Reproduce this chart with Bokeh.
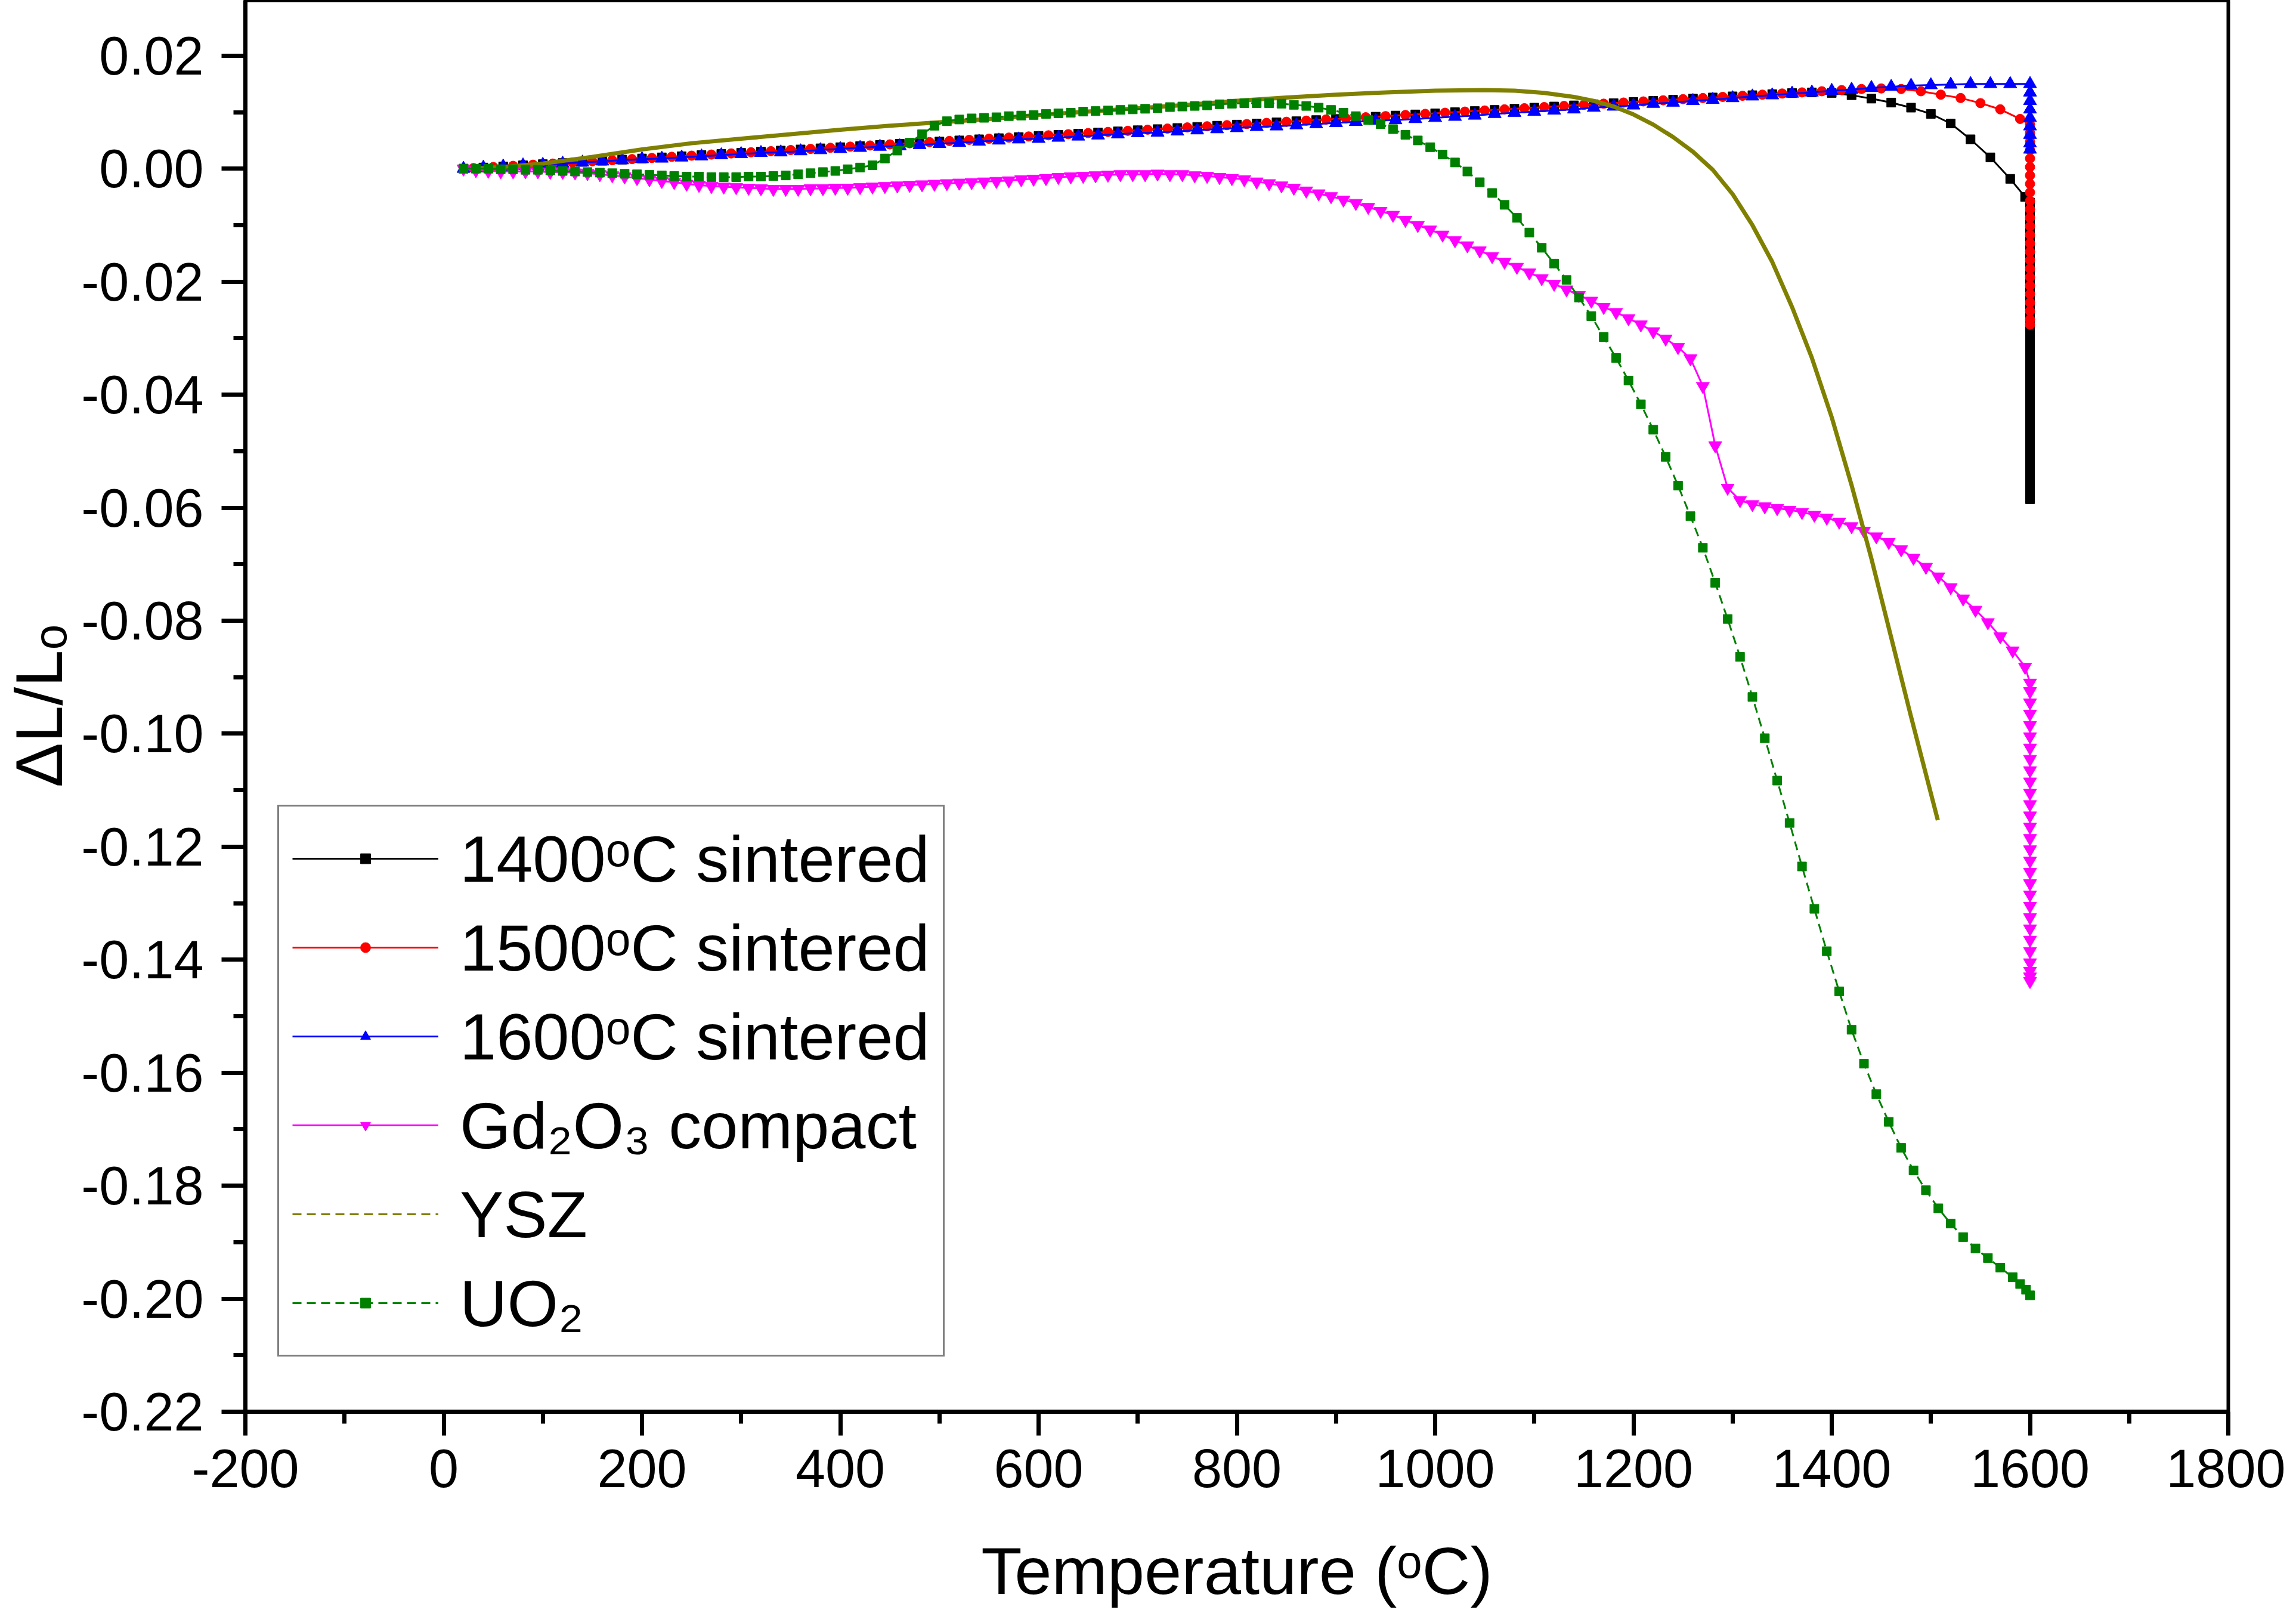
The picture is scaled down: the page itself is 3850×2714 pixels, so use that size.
from bokeh.plotting import figure
from bokeh.models import Legend, LegendItem, FixedTicker, PrintfTickFormatter
from bokeh.embed import file_html
from bokeh.resources import INLINE

# ---------------- data ----------------
HOLD_T = 1600  # isothermal hold temperature (vertical segments)

# 1400 C sintered (black, squares)
BLACK_RAMP = [(20,0.0000),(40,0.0002),(60,0.0004),(80,0.0006),(100,0.0008),(120,0.0010),(140,0.0012),
    (160,0.0014),(180,0.0016),(200,0.0018),(220,0.0020),(240,0.0022),(260,0.0024),(280,0.0026),
    (300,0.0028),(320,0.0030),(340,0.0032),(360,0.0034),(380,0.0036),(400,0.0038),(420,0.0040),
    (440,0.0042),(460,0.0044),(480,0.0046),(500,0.0048),(520,0.0050),(540,0.0052),(560,0.0054),
    (580,0.0056),(600,0.0058),(620,0.0060),(640,0.0062),(660,0.0064),(680,0.0066),(700,0.0068),
    (720,0.0070),(740,0.0072),(760,0.0074),(780,0.0076),(800,0.0078),(820,0.0080),(840,0.0082),
    (860,0.0084),(880,0.0086),(900,0.0088),(920,0.0090),(940,0.0092),(960,0.0094),(980,0.0096),
    (1000,0.0098),(1020,0.0100),(1040,0.0102),(1060,0.0104),(1080,0.0106),(1100,0.0108),
    (1120,0.0110),(1140,0.0112),(1160,0.0114),(1180,0.0116),(1200,0.0118),(1220,0.0120),
    (1240,0.0122),(1260,0.0124),(1280,0.0126),(1300,0.0128),(1320,0.0130),(1340,0.0132),
    (1360,0.0134),(1380,0.0135),(1400,0.0134),(1420,0.0130),(1440,0.0124),(1460,0.0117),
    (1480,0.0108),(1500,0.0097),(1520,0.0080),(1540,0.0052),(1560,0.0020),(1580,-0.0018),
    (1595,-0.0050),(1600,-0.0060)]
BLACK_HOLD = [-0.0075,-0.0090,-0.0105,-0.0120,-0.0135,-0.0150,-0.0165,-0.0180,-0.0195,-0.0210,
    -0.0225,-0.0240,-0.0255,-0.0270,-0.0285,-0.0300,-0.0315,-0.0330,-0.0345,-0.0360,-0.0375,
    -0.0390,-0.0405,-0.0420,-0.0435,-0.0450,-0.0465,-0.0480,-0.0495,-0.0510,-0.0525,-0.0540,
    -0.0555,-0.0570,-0.0585]

# 1500 C sintered (red, circles)
RED_RAMP = [(30,0.0001),(50,0.0003),(70,0.0005),(90,0.0007),(110,0.0009),(130,0.0011),(150,0.0013),
    (170,0.0015),(190,0.0017),(210,0.0019),(230,0.0021),(250,0.0023),(270,0.0025),(290,0.0027),
    (310,0.0029),(330,0.0031),(350,0.0033),(370,0.0035),(390,0.0037),(410,0.0039),(430,0.0041),
    (450,0.0043),(470,0.0045),(490,0.0047),(510,0.0049),(530,0.0051),(550,0.0053),(570,0.0055),
    (590,0.0057),(610,0.0059),(630,0.0061),(650,0.0063),(670,0.0065),(690,0.0067),(710,0.0069),
    (730,0.0071),(750,0.0073),(770,0.0075),(790,0.0077),(810,0.0079),(830,0.0081),(850,0.0083),
    (870,0.0085),(890,0.0087),(910,0.0089),(930,0.0091),(950,0.0093),(970,0.0095),(990,0.0097),
    (1010,0.0099),(1030,0.0101),(1050,0.0103),(1070,0.0105),(1090,0.0107),(1110,0.0109),
    (1130,0.0111),(1150,0.0113),(1170,0.0115),(1190,0.0117),(1210,0.0119),(1230,0.0121),
    (1250,0.0123),(1270,0.0125),(1290,0.0127),(1310,0.0129),(1330,0.0131),(1350,0.0133),
    (1370,0.0135),(1390,0.0137),(1410,0.0139),(1430,0.0141),(1450,0.0142),(1470,0.0141),
    (1490,0.0137),(1510,0.0131),(1530,0.0125),(1550,0.0116),(1570,0.0105),(1590,0.0088),
    (1600,0.0078)]
RED_HOLD = [0.0063,0.0048,0.0033,0.0018,0.0003,-0.0012,-0.0027,-0.0042,-0.0057,-0.0072,-0.0087,
    -0.0102,-0.0117,-0.0132,-0.0147,-0.0162,-0.0177,-0.0192,-0.0207,-0.0222,-0.0237,-0.0252,
    -0.0267,-0.0276]

# 1600 C sintered (blue, triangles)
BLUE_RAMP = [(20,0.0000),(40,0.0002),(60,0.0004),(80,0.0006),(100,0.0007),(120,0.0009),(140,0.0011),
    (160,0.0013),(180,0.0015),(200,0.0017),(220,0.0018),(240,0.0020),(260,0.0022),(280,0.0024),
    (300,0.0026),(320,0.0028),(340,0.0029),(360,0.0031),(380,0.0033),(400,0.0035),(420,0.0037),
    (440,0.0039),(460,0.0040),(480,0.0042),(500,0.0044),(520,0.0046),(540,0.0048),(560,0.0050),
    (580,0.0052),(600,0.0053),(620,0.0055),(640,0.0057),(660,0.0059),(680,0.0061),(700,0.0063),
    (720,0.0064),(740,0.0066),(760,0.0068),(780,0.0070),(800,0.0072),(820,0.0074),(840,0.0075),
    (860,0.0077),(880,0.0079),(900,0.0081),(920,0.0083),(940,0.0085),(960,0.0086),(980,0.0088),
    (1000,0.0090),(1020,0.0092),(1040,0.0094),(1060,0.0097),(1080,0.0099),(1100,0.0101),
    (1120,0.0103),(1140,0.0105),(1160,0.0108),(1180,0.0110),(1200,0.0112),(1220,0.0115),
    (1240,0.0117),(1260,0.0120),(1280,0.0122),(1300,0.0125),(1320,0.0128),(1340,0.0130),
    (1360,0.0133),(1380,0.0135),(1400,0.0138),(1420,0.0140),(1440,0.0143),(1460,0.0145),
    (1480,0.0147),(1500,0.0148),(1520,0.0149),(1540,0.0150),(1560,0.0150),(1580,0.0150),
    (1600,0.0150)]
BLUE_HOLD = [0.0135,0.0120,0.0105,0.0090,0.0075,0.0060,0.0045,0.0034]

# Gd2O3 compact (magenta, inverted triangles)
GD_RAMP = [(20,0.0000),(32.5,-0.0003),(45,-0.0004),(57.5,-0.0005),(70,-0.0005),(82.5,-0.0005),
    (95,-0.0005),(107.5,-0.0006),(120,-0.0006),(132.5,-0.0007),(145,-0.0008),(157.5,-0.0010),
    (170,-0.0012),(182.5,-0.0014),(195,-0.0017),(207.5,-0.0019),(220,-0.0022),(232.5,-0.0024),
    (245,-0.0027),(257.5,-0.0029),(270,-0.0031),(282.5,-0.0032),(295,-0.0033),(307.5,-0.0034),
    (320,-0.0035),(332.5,-0.0036),(345,-0.0036),(357.5,-0.0036),(370,-0.0035),(382.5,-0.0035),
    (395,-0.0034),(407.5,-0.0034),(420,-0.0033),(432.5,-0.0032),(445,-0.0031),(457.5,-0.0030),
    (470,-0.0029),(482.5,-0.0028),(495,-0.0027),(507.5,-0.0026),(520,-0.0025),(532.5,-0.0024),
    (545,-0.0023),(557.5,-0.0022),(570,-0.0021),(582.5,-0.0019),(595,-0.0018),(607.5,-0.0017),
    (620,-0.0015),(632.5,-0.0014),(645,-0.0013),(657.5,-0.0012),(670,-0.0011),(682.5,-0.0010),
    (695,-0.0010),(707.5,-0.0010),(720,-0.0009),(732.5,-0.0010),(745,-0.0010),(757.5,-0.0012),
    (770,-0.0013),(782.5,-0.0015),(795,-0.0017),(807.5,-0.0019),(820,-0.0023),(832.5,-0.0026),
    (845,-0.0030),(857.5,-0.0034),(870,-0.0039),(882.5,-0.0044),(895,-0.0049),(907.5,-0.0055),
    (920,-0.0061),(932.5,-0.0068),(945,-0.0075),(957.5,-0.0082),(970,-0.0091),(982.5,-0.0100),
    (995,-0.0108),(1007.5,-0.0117),(1020,-0.0127),(1032.5,-0.0136),(1045,-0.0145),
    (1057.5,-0.0155),(1070,-0.0165),(1082.5,-0.0174),(1095,-0.0184),(1107.5,-0.0194),
    (1120,-0.0204),(1132.5,-0.0214),(1145,-0.0224),(1157.5,-0.0234),(1170,-0.0245),
    (1182.5,-0.0254),(1195,-0.0265),(1207.5,-0.0276),(1220,-0.0288),(1232.5,-0.0301),
    (1245,-0.0316),(1257.5,-0.0336),(1270,-0.0385),(1282.5,-0.0490),(1295,-0.0565),
    (1307.5,-0.0587),(1320,-0.0594),(1332.5,-0.0598),(1345,-0.0601),(1357.5,-0.0604),
    (1370,-0.0608),(1382.5,-0.0613),(1395,-0.0618),(1407.5,-0.0625),(1420,-0.0633),
    (1432.5,-0.0641),(1445,-0.0651),(1457.5,-0.0661),(1470,-0.0674),(1482.5,-0.0689),
    (1495,-0.0705),(1507.5,-0.0722),(1520,-0.0741),(1532.5,-0.0761),(1545,-0.0781),
    (1557.5,-0.0803),(1570,-0.0828),(1582.5,-0.0853),(1595,-0.0882),(1600,-0.0910)]
GD_HOLD = [-0.0925,-0.0945,-0.0965,-0.0985,-0.1005,-0.1025,-0.1045,-0.1065,-0.1085,-0.1105,
    -0.1125,-0.1145,-0.1165,-0.1185,-0.1205,-0.1225,-0.1245,-0.1265,-0.1285,-0.1305,-0.1325,
    -0.1345,-0.1365,-0.1385,-0.1405,-0.1420,-0.1430,-0.1438]

# YSZ (olive, line)
YSZ_CURVE = [(30,0.0000),(60,0.0003),(100,0.0009),(150,0.0021),(200,0.0034),(250,0.0045),
    (300,0.0053),(350,0.0061),(400,0.0069),(450,0.0076),(500,0.0082),(550,0.0088),(600,0.0095),
    (650,0.0101),(700,0.0107),(750,0.0113),(800,0.0120),(850,0.0126),(900,0.0131),(950,0.0135),
    (1000,0.0138),(1050,0.0139),(1080,0.0138),(1110,0.0134),(1140,0.0127),(1160,0.0120),
    (1180,0.0110),(1200,0.0096),(1220,0.0078),(1240,0.0056),(1260,0.0030),(1280,-0.0002),
    (1300,-0.0045),(1320,-0.0100),(1340,-0.0165),(1360,-0.0245),(1380,-0.0335),(1400,-0.0440),
    (1420,-0.0560),(1440,-0.0690),(1460,-0.0830),(1480,-0.0970),(1507,-0.1153)]

# UO2 (green, squares, dashed)
UO2_CURVE = [(20,0.0000),(32.5,0.0000),(45,0.0000),(57.5,-0.0001),(70,-0.0001),(82.5,-0.0002),
    (95,-0.0002),(107.5,-0.0003),(120,-0.0004),(132.5,-0.0005),(145,-0.0006),(157.5,-0.0007),
    (170,-0.0008),(182.5,-0.0009),(195,-0.0010),(207.5,-0.0011),(220,-0.0012),(232.5,-0.0013),
    (245,-0.0014),(257.5,-0.0014),(270,-0.0015),(282.5,-0.0015),(295,-0.0015),(307.5,-0.0014),
    (320,-0.0014),(332.5,-0.0013),(345,-0.0012),(357.5,-0.0010),(370,-0.0008),(382.5,-0.0006),
    (395,-0.0004),(407.5,-0.0001),(420,0.0002),(432.5,0.0006),(445,0.0018),(457.5,0.0032),
    (470,0.0046),(482.5,0.0061),(495,0.0076),(507.5,0.0084),(520,0.0087),(532.5,0.0089),
    (545,0.0090),(557.5,0.0091),(570,0.0093),(582.5,0.0094),(595,0.0095),(607.5,0.0097),
    (620,0.0098),(632.5,0.0099),(645,0.0101),(657.5,0.0102),(670,0.0103),(682.5,0.0104),
    (695,0.0105),(707.5,0.0106),(720,0.0107),(732.5,0.0109),(745,0.0110),(757.5,0.0111),
    (770,0.0112),(782.5,0.0114),(795,0.0115),(807.5,0.0116),(820,0.0116),(832.5,0.0116),
    (845,0.0115),(857.5,0.0113),(870,0.0111),(882.5,0.0108),(895,0.0104),(907.5,0.0099),
    (920,0.0093),(932.5,0.0086),(945,0.0079),(957.5,0.0070),(970,0.0060),(982.5,0.0050),
    (995,0.0038),(1007.5,0.0025),(1020,0.0011),(1032.5,-0.0005),(1045,-0.0024),(1057.5,-0.0043),
    (1070,-0.0064),(1082.5,-0.0087),(1095,-0.0113),(1107.5,-0.0140),(1120,-0.0168),
    (1132.5,-0.0197),(1145,-0.0228),(1157.5,-0.0261),(1170,-0.0298),(1182.5,-0.0335),
    (1195,-0.0375),(1207.5,-0.0417),(1220,-0.0462),(1232.5,-0.0510),(1245,-0.0561),
    (1257.5,-0.0615),(1270,-0.0671),(1282.5,-0.0733),(1295,-0.0797),(1307.5,-0.0864),
    (1320,-0.0935),(1332.5,-0.1008),(1345,-0.1083),(1357.5,-0.1158),(1370,-0.1235),
    (1382.5,-0.1310),(1395,-0.1385),(1407.5,-0.1456),(1420,-0.1524),(1432.5,-0.1584),
    (1445,-0.1638),(1457.5,-0.1687),(1470,-0.1733),(1482.5,-0.1773),(1495,-0.1808),
    (1507.5,-0.1840),(1520,-0.1867),(1532.5,-0.1891),(1545,-0.1911),(1557.5,-0.1928),
    (1570,-0.1945),(1582.5,-0.1962),(1590,-0.1974),(1596,-0.1984),(1600,-0.1994)]

SERIES_LABELS = ["1400\u1d52C sintered", "1500\u1d52C sintered", "1600\u1d52C sintered",
                 "Gd\u2082O\u2083 compact", "YSZ", "UO\u2082"]
X_TICKS = [-200, 0, 200, 400, 600, 800, 1000, 1200, 1400, 1600, 1800]
X_MINOR = [-100, 100, 300, 500, 700, 900, 1100, 1300, 1500, 1700]
Y_TICKS = [0.02, 0.00, -0.02, -0.04, -0.06, -0.08, -0.10, -0.12, -0.14, -0.16, -0.18, -0.20, -0.22]
Y_MINOR = [0.01, -0.01, -0.03, -0.05, -0.07, -0.09, -0.11, -0.13, -0.15, -0.17, -0.19, -0.21]
X_LABEL = "Temperature (\u1d52C)"
Y_LABEL = "\u0394L/L\u2092"

FONT = "Liberation Sans"


def build(ramp, hold=()):
    xs = [t for t, _ in ramp] + [HOLD_T] * len(hold)
    ys = [v for _, v in ramp] + list(hold)
    return xs, ys


p = figure(width=3832, height=2698, x_range=(-200, 1800), y_range=(-0.22, 0.0298),
           output_backend="svg", toolbar_location=None,
           min_border_left=10, min_border_right=96, min_border_top=0, min_border_bottom=10)
p.background_fill_color = "white"
p.border_fill_color = "white"
p.outline_line_color = "black"
p.outline_line_width = 6
p.xgrid.visible = False
p.ygrid.visible = False

items = []

def add_series(xs, ys, color, marker, size, label, dash="solid", lw=3):
    lr = p.line(xs, ys, line_color=color, line_width=lw, line_dash=dash)
    sr = p.scatter(xs, ys, marker=marker, size=size, fill_color=color, line_color=color)
    items.append(LegendItem(label=label, renderers=[lr, sr]))

bx, by = build(BLACK_RAMP, BLACK_HOLD)
add_series(bx, by, "#000000", "square", 15, SERIES_LABELS[0])
rx, ry = build(RED_RAMP, RED_HOLD)
add_series(rx, ry, "#FF0000", "circle", 16, SERIES_LABELS[1])
ux, uy = build(BLUE_RAMP, BLUE_HOLD)
add_series(ux, uy, "#0000FF", "triangle", 22, SERIES_LABELS[2])
gx, gy = build(GD_RAMP, GD_HOLD)
add_series(gx, gy, "#FF00FF", "inverted_triangle", 22, SERIES_LABELS[3])

# YSZ: dense data -> looks solid in the plot, dashed in the legend
yx, yy = build(YSZ_CURVE)
p.line(yx, yy, line_color="#808000", line_width=7)
ysz_leg_line = p.line([float("nan")], [float("nan")], line_color="#808000", line_width=3, line_dash="15 9")
items.append(LegendItem(label=SERIES_LABELS[4], renderers=[ysz_leg_line]))

ox, oy = build(UO2_CURVE)
add_series(ox, oy, "#008000", "square", 15, SERIES_LABELS[5], dash="15 9")

# axes
for ax in (p.xaxis[0], p.yaxis[0]):
    ax.axis_line_width = 7
    ax.axis_line_color = "black"
    ax.major_tick_line_width = 7
    ax.minor_tick_line_width = 7
    ax.major_tick_line_color = "black"
    ax.minor_tick_line_color = "black"
    ax.major_tick_in = 0
    ax.major_tick_out = 40
    ax.minor_tick_in = 0
    ax.minor_tick_out = 20
    ax.major_label_text_font = FONT
    ax.major_label_text_font_size = "90px"
    ax.major_label_text_color = "black"
    ax.axis_label_text_font = FONT
    ax.axis_label_text_font_size = "112px"
    ax.axis_label_text_font_style = "normal"
    ax.axis_label_text_color = "black"

p.xaxis.ticker = FixedTicker(ticks=X_TICKS, minor_ticks=X_MINOR)
p.yaxis.ticker = FixedTicker(ticks=Y_TICKS, minor_ticks=Y_MINOR)
p.xaxis.formatter = PrintfTickFormatter(format="%d")
p.yaxis.formatter = PrintfTickFormatter(format="%.2f")
p.xaxis.axis_label = X_LABEL
p.yaxis.axis_label = Y_LABEL
p.xaxis.major_label_standoff = 23
p.xaxis.axis_label_standoff = 75
p.yaxis.major_label_standoff = 30
p.yaxis.axis_label_standoff = 5

legend = Legend(items=items, location=(54, 92), margin=0, padding=22, spacing=19,
                glyph_width=245, glyph_height=42, label_height=130, label_standoff=36,
                label_text_font=FONT, label_text_font_size="110px", label_text_color="black",
                border_line_color="black", border_line_width=3,
                background_fill_color="white", background_fill_alpha=1.0)
p.add_layout(legend)

open("out.html", "w").write(file_html(p, INLINE))
